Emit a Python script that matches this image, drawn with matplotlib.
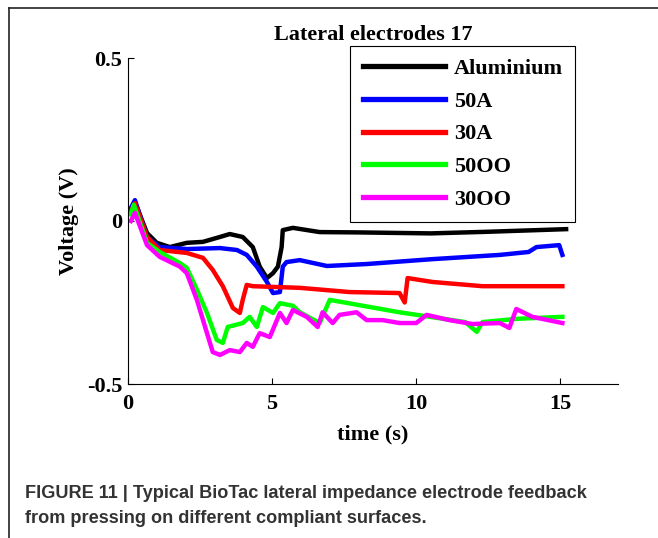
import matplotlib
matplotlib.use("Agg")
import matplotlib.pyplot as plt
from matplotlib.lines import Line2D

# time (s) / voltage (V)
t_al = [0.1, 0.24, 0.66, 1.0, 1.45, 2.04, 2.6, 3.19, 3.53, 3.98, 4.33, 4.57, 4.82, 5.03, 5.2, 5.33, 5.37, 5.72, 6.65, 8.0, 10.5, 12.5, 15.2]
v_al = [0.03, 0.058, -0.037, -0.067, -0.08, -0.067, -0.064, -0.049, -0.04, -0.049, -0.08, -0.14, -0.175, -0.16, -0.14, -0.08, -0.028, -0.021, -0.034, -0.035, -0.038, -0.033, -0.025]

t_50a = [0.1, 0.24, 0.66, 1.1, 2.04, 3.19, 3.78, 4.12, 4.47, 4.82, 5.03, 5.27, 5.37, 5.5, 5.96, 6.9, 8.28, 10.56, 12.9, 13.9, 14.17, 14.96, 15.07]
v_50a = [0.04, 0.064, -0.049, -0.08, -0.086, -0.083, -0.089, -0.104, -0.14, -0.187, -0.221, -0.218, -0.14, -0.126, -0.12, -0.138, -0.132, -0.117, -0.104, -0.095, -0.08, -0.074, -0.104]

t_30a = [0.1, 0.24, 0.66, 1.1, 2.04, 2.6, 2.94, 3.29, 3.64, 3.88, 3.98, 4.12, 4.33, 5.96, 7.69, 9.42, 9.6, 9.7, 10.56, 12.3, 15.07]
v_30a = [0.03, 0.055, -0.049, -0.089, -0.098, -0.113, -0.15, -0.2, -0.267, -0.282, -0.242, -0.196, -0.2, -0.205, -0.218, -0.221, -0.25, -0.175, -0.187, -0.2, -0.2]

t_50oo = [0.1, 0.2, 0.66, 1.1, 1.8, 2.04, 2.39, 2.74, 3.08, 3.29, 3.46, 3.98, 4.22, 4.47, 4.68, 5.03, 5.27, 5.72, 5.96, 6.65, 7.0, 9.42, 11.7, 12.1, 12.3, 13.5, 15.07]
v_50oo = [0.02, 0.05, -0.067, -0.095, -0.129, -0.144, -0.21, -0.282, -0.365, -0.374, -0.325, -0.313, -0.294, -0.325, -0.264, -0.282, -0.252, -0.26, -0.28, -0.313, -0.242, -0.28, -0.31, -0.34, -0.31, -0.3, -0.294]

t_30oo = [0.1, 0.24, 0.66, 1.1, 1.8, 2.04, 2.39, 2.74, 2.94, 3.19, 3.53, 3.88, 4.12, 4.33, 4.57, 4.92, 5.27, 5.5, 5.72, 6.2, 6.58, 6.75, 7.1, 7.34, 7.93, 8.28, 8.83, 9.42, 10.0, 10.36, 11.15, 11.95, 12.9, 13.23, 13.47, 14.03, 15.07]
v_30oo = [0.0, 0.025, -0.074, -0.11, -0.14, -0.16, -0.242, -0.344, -0.402, -0.411, -0.396, -0.402, -0.374, -0.386, -0.344, -0.356, -0.282, -0.313, -0.273, -0.294, -0.325, -0.28, -0.313, -0.288, -0.28, -0.304, -0.304, -0.313, -0.313, -0.288, -0.304, -0.316, -0.313, -0.328, -0.27, -0.294, -0.313]

labels = ['Aluminium', '50A', '30A', '50OO', '30OO']
colors = ['black', 'blue', 'red', '#00ff00', 'magenta']

serif = ['Liberation Serif', 'DejaVu Serif']
fs = 16

fig = plt.figure(figsize=(6.58, 5.38), dpi=100)
ax = fig.add_axes([128/658, 1-384/538, 490/658, 326/538])

series = [(t_al, v_al), (t_50a, v_50a), (t_30a, v_30a), (t_50oo, v_50oo), (t_30oo, v_30oo)]
for (t, v), lab, c in zip(series, labels, colors):
    ax.plot(t, v, color=c, lw=3.2, label=lab)

ax.set_xlim(0, 17)
ax.set_ylim(-0.5, 0.5)
ax.set_xticks([0, 5, 10, 15])
ax.set_yticks([-0.5, 0, 0.5])
ax.set_yticklabels(['-0.5', '0', '0.5'])
ax.spines['top'].set_visible(False)
ax.spines['right'].set_visible(False)
ax.tick_params(direction='in', length=4, width=0.8)
ax.tick_params(axis='x', pad=7)
ax.tick_params(axis='y', pad=4)
for lbl in ax.get_xticklabels() + ax.get_yticklabels():
    lbl.set_fontfamily(serif)
    lbl.set_fontweight('bold')
    lbl.set_fontsize(fs)

ax.set_xlabel('time (s)', family=serif, fontweight='bold', fontsize=fs, labelpad=8)
ax.set_ylabel('Voltage (V)', family=serif, fontweight='bold', fontsize=fs, labelpad=6)
ax.set_title('Lateral electrodes 17', family=serif, fontweight='bold', fontsize=fs, pad=13)

leg = ax.legend(loc='upper right', bbox_to_anchor=(575/658, 1-46/538),
                bbox_transform=fig.transFigure, borderaxespad=0,
                prop={'family': serif, 'weight': 'bold', 'size': fs},
                fancybox=False, framealpha=1, edgecolor='black',
                handlelength=3.7, labelspacing=0.55, borderpad=0.55, handletextpad=0.4)
leg.get_frame().set_linewidth(0.8)
for h in leg.get_lines():
    h.set_linewidth(3.8)

# panel frame (top and left)
fig.add_artist(Line2D([9/658, 9/658], [0, 1-8/538], color='#222222', lw=1.2, transform=fig.transFigure))
fig.add_artist(Line2D([9/658, 1], [1-8/538, 1-8/538], color='#222222', lw=1.2, transform=fig.transFigure))

cap_font = ['Liberation Sans', 'DejaVu Sans']
fig.text(25/658, 1-498/538, 'FIGURE 11 | Typical BioTac lateral impedance electrode feedback',
         family=cap_font, fontweight='bold', fontsize=13.1, color='#333333', va='baseline')
fig.text(25/658, 1-523/538, 'from pressing on different compliant surfaces.',
         family=cap_font, fontweight='bold', fontsize=13.1, color='#333333', va='baseline')

fig.savefig('out.png', dpi=100)
